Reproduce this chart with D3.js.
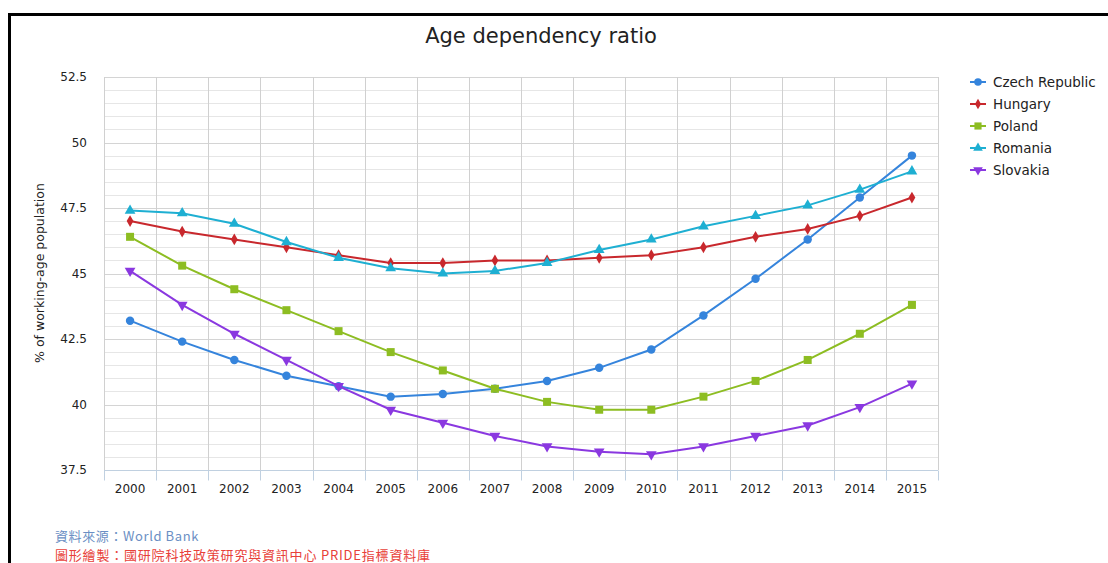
<!DOCTYPE html>
<html><head><meta charset="utf-8">
<script src="https://cdn.jsdelivr.net/npm/d3@7"></script>
<style>
body{margin:0;background:#fff;}
svg{display:block;font-family:"DejaVu Sans",Verdana,sans-serif;}
</style></head>
<body>
<svg id="c" width="1108" height="563"></svg>
<script>
const years = ["2000","2001","2002","2003","2004","2005","2006","2007","2008","2009","2010","2011","2012","2013","2014","2015"];
const czech    = [43.2,42.4,41.7,41.1,40.7,40.3,40.4,40.6,40.9,41.4,42.1,43.4,44.8,46.3,47.9,49.5];
const hungary  = [47.0,46.6,46.3,46.0,45.7,45.4,45.4,45.5,45.5,45.6,45.7,46.0,46.4,46.7,47.2,47.9];
const poland   = [46.4,45.3,44.4,43.6,42.8,42.0,41.3,40.6,40.1,39.8,39.8,40.3,40.9,41.7,42.7,43.8];
const romania  = [47.4,47.3,46.9,46.2,45.6,45.2,45.0,45.1,45.4,45.9,46.3,46.8,47.2,47.6,48.2,48.9];
const slovakia = [45.1,43.8,42.7,41.7,40.7,39.8,39.3,38.8,38.4,38.2,38.1,38.4,38.8,39.2,39.9,40.8];
const seriesNames = ["Czech Republic","Hungary","Poland","Romania","Slovakia"];
const yTicks = [37.5,40,42.5,45,47.5,50,52.5];
const yTickLabels = ["37.5","40","42.5","45","47.5","50","52.5"];

const colors = ["#3584dc","#c8282d","#8dbd22","#1eafd2","#8a38e0"];
const symbols = [d3.symbolCircle, d3.symbolDiamond, d3.symbolSquare, d3.symbolTriangle, d3.symbolTriangle];
const symSizes = [56, 40, 64, 50, 50];
const rot = [0,0,0,0,180];
const data = [czech,hungary,poland,romania,slovakia];

const svg = d3.select("#c");
const L=104, R=938, T=77, B=470;

// frame
svg.append("line").attr("x1",8.5).attr("x2",1108).attr("y1",14.5).attr("y2",14.5).attr("stroke","#000").attr("stroke-width",3);
svg.append("line").attr("x1",9.5).attr("x2",9.5).attr("y1",13).attr("y2",563).attr("stroke","#000").attr("stroke-width",3);

const x = d3.scaleBand().domain(years).range([L,R]);
const y = d3.scaleLinear().domain([37.5,52.5]).range([B,T]);

// minor horizontal grid
const minor = d3.range(38,52.5,0.5).filter(v=>Math.abs((v/2.5)-Math.round(v/2.5))>1e-6);
svg.append("g").selectAll("line").data(minor).join("line")
  .attr("x1",L).attr("x2",R).attr("y1",d=>Math.round(y(d))+0.5).attr("y2",d=>Math.round(y(d))+0.5)
  .attr("stroke","#e6e6e6").attr("stroke-width",1);
// major horizontal grid
svg.append("g").selectAll("line").data(yTicks.filter(v=>v>37.5)).join("line")
  .attr("x1",L).attr("x2",R).attr("y1",d=>Math.round(y(d))+0.5).attr("y2",d=>Math.round(y(d))+0.5)
  .attr("stroke","#d4d4d4").attr("stroke-width",1);
// vertical grid
const bounds = years.map(d=>x(d)).concat([R]);
svg.append("g").selectAll("line").data(bounds).join("line")
  .attr("x1",d=>Math.round(d)+0.5).attr("x2",d=>Math.round(d)+0.5).attr("y1",T).attr("y2",B)
  .attr("stroke","#d0d0d0").attr("stroke-width",1);

// x axis
const xa = svg.append("g").attr("transform",`translate(0,${B+0.5})`);
xa.append("line").attr("x1",L).attr("x2",R).attr("stroke","#c0d0e0");
xa.selectAll("line.t").data(bounds).join("line").attr("class","t")
  .attr("x1",d=>Math.round(d)+0.5).attr("x2",d=>Math.round(d)+0.5).attr("y1",0).attr("y2",10).attr("stroke","#c0d0e0");
xa.selectAll("text").data(years).join("text")
  .attr("x",d=>x(d)+x.bandwidth()/2).attr("y",22).attr("text-anchor","middle")
  .attr("font-size",12).attr("fill","#222").text(d=>d);

// y axis labels
svg.append("g").selectAll("text").data(yTicks).join("text")
  .attr("x",87).attr("y",d=>y(d)+4).attr("text-anchor","end").attr("font-size",12).attr("fill","#222")
  .text((d,i)=>yTickLabels[i]);

// y title
svg.append("text").attr("transform","translate(44,273) rotate(-90)").attr("text-anchor","middle")
  .attr("font-size",12.5).attr("fill","#222").text("% of working-age population");

// title
svg.append("text").attr("x",541).attr("y",43).attr("text-anchor","middle").attr("font-size",21).attr("fill","#222").text("Age dependency ratio");

// series
const line = d3.line().x((d,i)=>x(years[i])+x.bandwidth()/2).y(d=>y(d));
data.forEach((s,k)=>{
  const g = svg.append("g");
  g.append("path").attr("d",line(s)).attr("fill","none").attr("stroke",colors[k]).attr("stroke-width",2);
  g.selectAll("path.m").data(s).join("path").attr("class","m")
    .attr("d",d3.symbol().type(symbols[k]).size(symSizes[k]))
    .attr("transform",(d,i)=>`translate(${x(years[i])+x.bandwidth()/2},${y(d)}) rotate(${rot[k]})`)
    .attr("fill",colors[k]);
});

// legend
const lg = svg.append("g");
seriesNames.forEach((n,k)=>{
  const yy = 82 + k*22;
  lg.append("line").attr("x1",970).attr("x2",986).attr("y1",yy).attr("y2",yy).attr("stroke",colors[k]).attr("stroke-width",2);
  lg.append("path").attr("d",d3.symbol().type(symbols[k]).size(symSizes[k]*0.8))
    .attr("transform",`translate(978,${yy}) rotate(${rot[k]})`).attr("fill",colors[k]);
  lg.append("text").attr("x",993).attr("y",yy+5).attr("font-size",13.5).attr("fill","#222").text(n);
});

// footer
svg.append("text").attr("x",55).attr("y",541).attr("font-size",13).attr("letter-spacing",0.6).attr("font-family","'Noto Sans CJK TC',sans-serif").attr("fill","#6b8fc4").text("資料來源：World Bank");
svg.append("text").attr("x",55).attr("y",560).attr("font-size",13).attr("letter-spacing",0.8).attr("font-family","'Noto Sans CJK TC',sans-serif").attr("fill","#e8413a").text("圖形繪製：國研院科技政策研究與資訊中心 PRIDE指標資料庫");
</script>
</body></html>
